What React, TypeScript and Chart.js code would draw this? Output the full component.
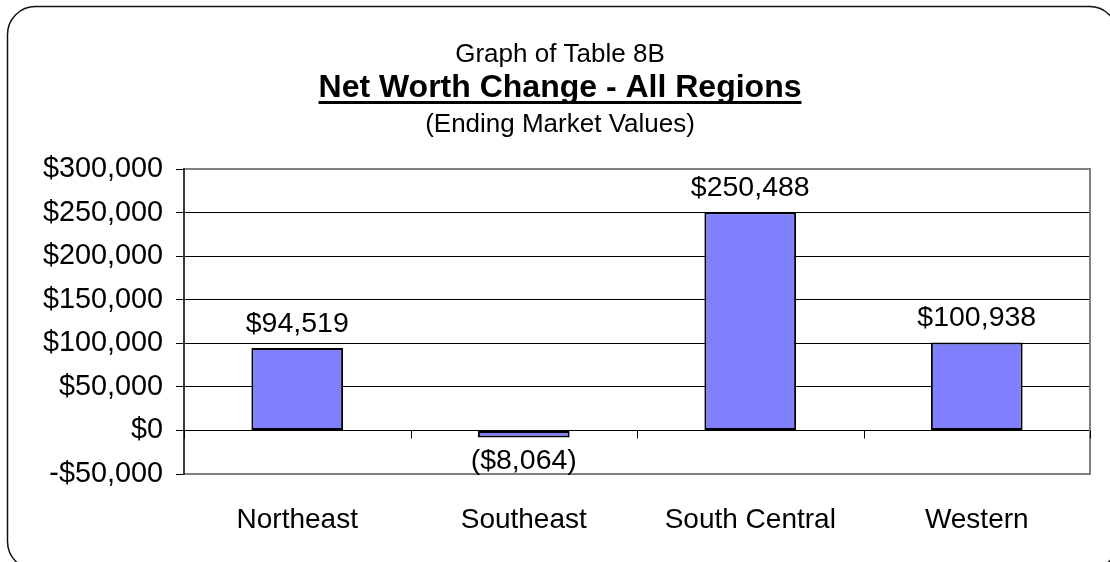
import React, { useEffect, useRef } from 'react';
import { Chart, registerables } from 'chart.js';

Chart.register(...registerables);

const categories = ['Northeast', 'Southeast', 'South Central', 'Western'];
const netWorthChange = [94519, -8064, 250488, 100938];
const yMin = -50000;
const yMax = 300000;
const yStep = 50000;
const titleLines = ['Graph of Table 8B', 'Net Worth Change - All Regions', '(Ending Market Values)'];

const FONT = '"Liberation Sans", Arial, Helvetica, sans-serif';

function fmtTick(v: number): string {
  const s = Math.abs(v).toLocaleString('en-US');
  return v < 0 ? '-$' + s : '$' + s;
}

function fmtLabel(v: number): string {
  const s = '$' + Math.abs(v).toLocaleString('en-US');
  return v < 0 ? '(' + s + ')' : s;
}

const framePlugin = {
  id: 'frame',
  beforeDraw(chart: any) {
    const { ctx, width, height } = chart;
    ctx.save();
    ctx.fillStyle = '#ffffff';
    ctx.fillRect(0, 0, width, height);
    const x = 7.5, y = 6.5, w = 1110, h = 563, r = 28;
    ctx.beginPath();
    ctx.moveTo(x + r, y);
    ctx.lineTo(x + w - r, y);
    ctx.arcTo(x + w, y, x + w, y + r, r);
    ctx.lineTo(x + w, y + h - r);
    ctx.arcTo(x + w, y + h, x + w - r, y + h, r);
    ctx.lineTo(x + r, y + h);
    ctx.arcTo(x, y + h, x, y + h - r, r);
    ctx.lineTo(x, y + r);
    ctx.arcTo(x, y, x + r, y, r);
    ctx.closePath();
    ctx.strokeStyle = '#111111';
    ctx.lineWidth = 1.5;
    ctx.stroke();
    ctx.restore();
  },
};

const titlePlugin = {
  id: 'titles',
  afterDraw(chart: any) {
    const { ctx } = chart;
    const cx = 560;
    ctx.save();
    ctx.fillStyle = '#000';
    ctx.textAlign = 'center';
    ctx.textBaseline = 'alphabetic';
    ctx.font = `26px ${FONT}`;
    ctx.fillText(titleLines[0], cx, 62);
    ctx.font = `bold 32px ${FONT}`;
    ctx.fillText(titleLines[1], cx, 97);
    const w = ctx.measureText(titleLines[1]).width;
    ctx.fillRect(cx - w / 2, 101, w, 3);
    ctx.font = `26px ${FONT}`;
    ctx.fillText(titleLines[2], cx, 132);
    ctx.restore();
  },
};

const borderPlugin = {
  id: 'plotBorder',
  beforeDatasetsDraw(chart: any) {
    const { ctx, chartArea, scales } = chart;
    const { left, right, top, bottom } = chartArea;
    ctx.save();
    ctx.strokeStyle = '#808080';
    ctx.lineWidth = 2;
    ctx.beginPath();
    ctx.moveTo(left, top);
    ctx.lineTo(right, top);
    ctx.lineTo(right, bottom);
    ctx.lineTo(left, bottom);
    ctx.stroke();
    ctx.strokeStyle = '#3a3a3a';
    ctx.beginPath();
    ctx.moveTo(left, top - 1);
    ctx.lineTo(left, bottom + 1);
    ctx.stroke();
    // category tick marks on the zero line
    const y0 = Math.round(scales.y.getPixelForValue(0)) + 0.5;
    const xs = scales.x;
    ctx.strokeStyle = '#000';
    ctx.lineWidth = 1;
    ctx.beginPath();
    for (let i = 0; i <= categories.length; i++) {
      let px: number;
      if (i === 0) px = left;
      else if (i === categories.length) px = right;
      else px = (xs.getPixelForValue(i - 1) + xs.getPixelForValue(i)) / 2;
      px = Math.round(px) + 0.5;
      ctx.moveTo(px, y0);
      ctx.lineTo(px, y0 + 8);
    }
    ctx.stroke();
    ctx.restore();
  },
};

const labelPlugin = {
  id: 'valueLabels',
  afterDatasetsDraw(chart: any) {
    const { ctx } = chart;
    const meta = chart.getDatasetMeta(0);
    ctx.save();
    ctx.fillStyle = '#000';
    ctx.font = `28.5px ${FONT}`;
    ctx.textAlign = 'center';
    ctx.textBaseline = 'alphabetic';
    meta.data.forEach((bar: any, i: number) => {
      const v = netWorthChange[i];
      const txt = fmtLabel(v);
      if (v >= 0) {
        ctx.fillText(txt, bar.x, bar.y - 16);
      } else {
        ctx.fillText(txt, bar.x, bar.y + 32);
      }
    });
    ctx.restore();
  },
};

export default function App() {
  const canvasRef = useRef<HTMLCanvasElement | null>(null);

  useEffect(() => {
    const canvas = canvasRef.current;
    if (!canvas) return;
    const chart = new Chart(canvas, {
      type: 'bar',
      data: {
        labels: categories,
        datasets: [
          {
            data: netWorthChange,
            backgroundColor: '#8080FF',
            borderColor: '#000000',
            borderWidth: 2,
            borderSkipped: false,
            categoryPercentage: 1,
            barPercentage: 0.405,
          },
        ],
      },
      options: {
        responsive: false,
        animation: false,
        devicePixelRatio: 1,
        layout: { padding: { top: 169, right: 20, left: 0, bottom: 0 } },
        plugins: {
          legend: { display: false },
          title: { display: false },
          tooltip: { enabled: false },
        },
        scales: {
          x: {
            grid: { display: false },
            border: { display: false },
            ticks: {
              color: '#000',
              font: { family: FONT, size: 28 },
              padding: 21,
              maxRotation: 0,
              autoSkip: false,
            },
            afterFit: (scale: any) => {
              scale.height = 88;
            },
          },
          y: {
            min: yMin,
            max: yMax,
            border: { display: false },
            grid: {
              color: (c: any) =>
                c.tick && (c.tick.value === yMax || c.tick.value === yMin) ? 'rgba(0,0,0,0)' : '#000000',
              tickColor: '#000000',
              tickLength: 8,
              lineWidth: 1,
            },
            ticks: {
              stepSize: yStep,
              color: '#000',
              font: { family: FONT, size: 28.8 },
              padding: 13,
              callback: (v: any) => fmtTick(Number(v)),
            },
            afterFit: (scale: any) => {
              scale.width = 184;
            },
          },
        },
      },
      plugins: [framePlugin, borderPlugin, labelPlugin, titlePlugin],
    });
    return () => chart.destroy();
  }, []);

  return (
    <div style={{ position: 'absolute', left: 0, top: 0, width: 1110, height: 562, background: '#fff' }}>
      <canvas ref={canvasRef} width={1110} height={562} style={{ display: 'block' }} />
    </div>
  );
}
